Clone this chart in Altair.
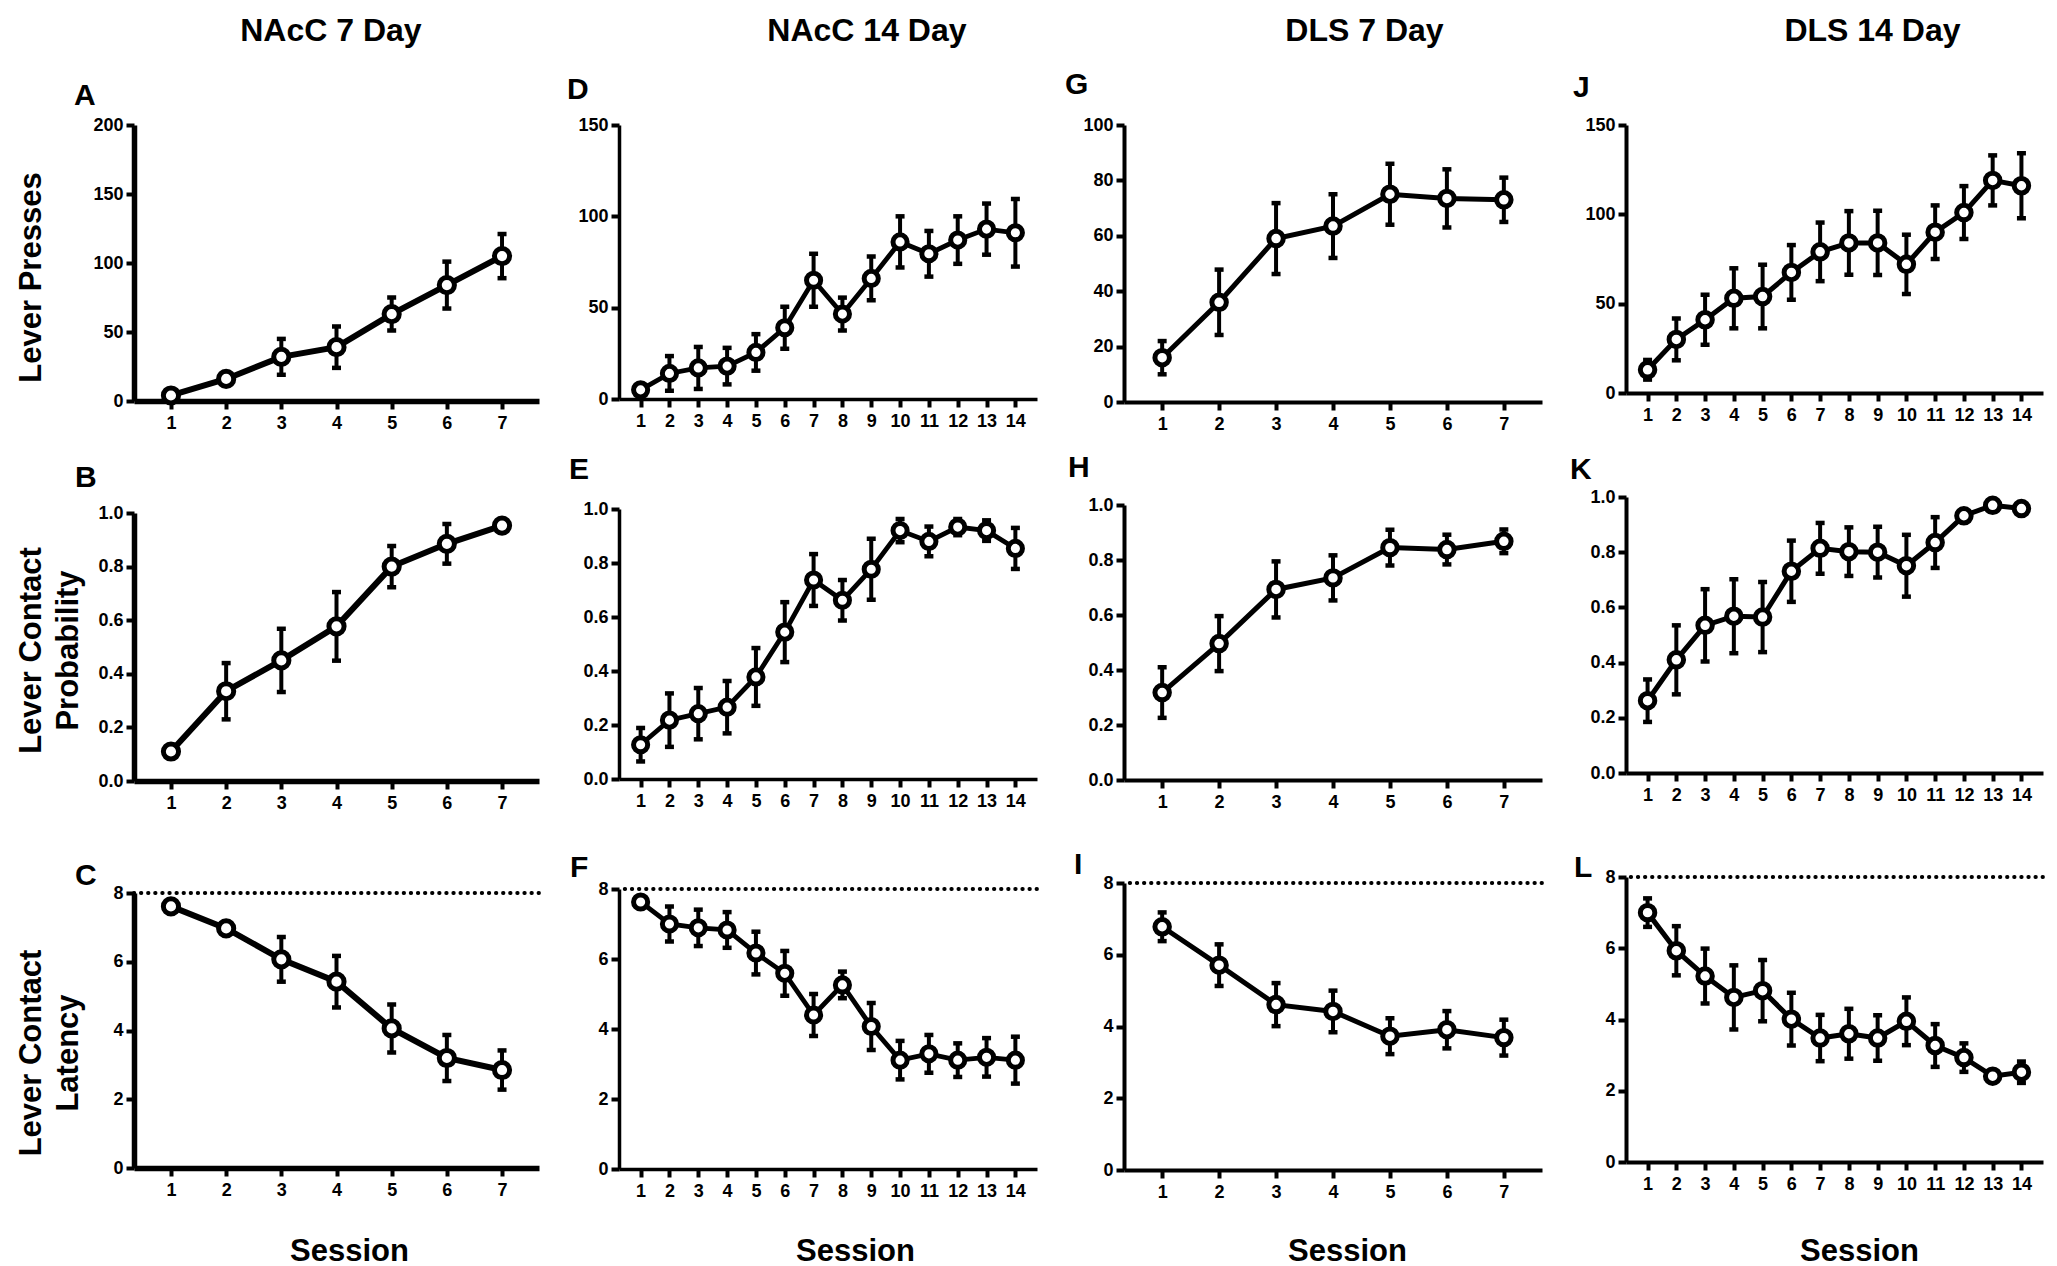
import altair as alt
import pandas as pd

FONT = "Liberation Sans"

# ---------------- data ----------------
sessions_7 = [1, 2, 3, 4, 5, 6, 7]
sessions_14 = [1, 2, 3, 4, 5, 6, 7, 8, 9, 10, 11, 12, 13, 14]

column_titles = ["NAcC 7 Day", "NAcC 14 Day", "DLS 7 Day", "DLS 14 Day"]
row_titles = ["Lever Presses", ["Lever Contact", "Probability"], ["Lever Contact", "Latency"]]
x_title = "Session"
latency_cutoff = [8]

yticks_200 = [0, 50, 100, 150, 200]
yticks_150 = [0, 50, 100, 150]
yticks_100 = [0, 20, 40, 60, 80, 100]
yticks_prob = [0.0, 0.2, 0.4, 0.6, 0.8, 1.0]
yticks_lat = [0, 2, 4, 6, 8]

# Lever presses
A_mean = [4, 16, 32, 39, 63, 84, 105]
A_sem = [2, 3, 13, 15, 12, 17, 16]
D_mean = [5, 14, 17, 18, 25.5, 39, 65, 46.5, 66, 86, 79.5, 87, 93, 91]
D_sem = [3, 9.5, 11.5, 10, 10, 11.5, 14.5, 9, 12, 14, 12.5, 13, 14, 18.5]
G_mean = [16, 36, 59, 63.5, 75, 73.5, 73]
G_sem = [6, 11.8, 12.8, 11.5, 11, 10.5, 8]
J_mean = [13, 30, 41, 53, 54, 67.5, 79, 84, 84, 72, 90, 101, 119, 116]
J_sem = [5.5, 11.7, 14, 16.8, 17.8, 15.3, 16.4, 17.8, 18, 16.6, 15, 14.8, 14, 18.2]

# Lever contact probability
B_mean = [0.11, 0.335, 0.45, 0.577, 0.80, 0.885, 0.953]
B_sem = [0.02, 0.105, 0.118, 0.128, 0.077, 0.074, 0.01]
E_mean = [0.127, 0.218, 0.242, 0.266, 0.378, 0.544, 0.737, 0.662, 0.777, 0.92, 0.88, 0.933, 0.92, 0.854]
E_sem = [0.062, 0.099, 0.095, 0.097, 0.107, 0.111, 0.096, 0.075, 0.113, 0.043, 0.055, 0.03, 0.038, 0.076]
H_mean = [0.318, 0.496, 0.693, 0.735, 0.845, 0.838, 0.868]
H_sem = [0.092, 0.10, 0.102, 0.082, 0.065, 0.054, 0.043]
K_mean = [0.262, 0.41, 0.535, 0.568, 0.565, 0.731, 0.814, 0.802, 0.80, 0.751, 0.835, 0.932, 0.97, 0.958]
K_sem = [0.077, 0.125, 0.131, 0.134, 0.127, 0.111, 0.092, 0.088, 0.092, 0.112, 0.092, 0.02, 0.01, 0.01]

# Lever contact latency
C_mean = [7.61, 6.97, 6.07, 5.42, 4.06, 3.2, 2.85]
C_sem = [0.1, 0.15, 0.65, 0.75, 0.7, 0.67, 0.57]
F_mean = [7.63, 7.0, 6.89, 6.83, 6.17, 5.59, 4.4, 5.26, 4.07, 3.11, 3.29, 3.11, 3.19, 3.11]
F_sem = [0.1, 0.5, 0.52, 0.51, 0.61, 0.64, 0.6, 0.38, 0.67, 0.55, 0.54, 0.48, 0.55, 0.67]
I_mean = [6.78, 5.71, 4.61, 4.42, 3.73, 3.91, 3.69]
I_sem = [0.4, 0.58, 0.6, 0.58, 0.5, 0.52, 0.5]
L_mean = [7.0, 5.93, 5.22, 4.62, 4.81, 4.01, 3.48, 3.6, 3.48, 3.95, 3.27, 2.93, 2.41, 2.52]
L_sem = [0.4, 0.69, 0.77, 0.9, 0.86, 0.74, 0.65, 0.7, 0.64, 0.67, 0.6, 0.4, 0.15, 0.3]


def panel(sessions, mean, sem, yticks, fmt, w, h, letter, letter_dx, letter_off,
          dw, lw, msize, ytitle=None, ytitle_dy=0, xtitle_x=None, xtitle_y=None,
          cutoff=False):
    df = pd.DataFrame({
        "session": sessions,
        "mean": mean,
        "lo": [m - s for m, s in zip(mean, sem)],
        "hi": [m + s for m, s in zip(mean, sem)],
    })
    xdom = [0.33, 7.67] if len(sessions) == 7 else [0.25, 14.75]
    xa = dict(values=sessions, labelAngle=0, labelFontSize=18, labelFont=FONT,
              labelFontWeight="bold", labelColor="black", labelPadding=5,
              labelOverlap=False, labelFlush=False, tickSize=8, tickWidth=4,
              tickColor="black", domainColor="black", domainWidth=dw, grid=False)
    if xtitle_x is not None:
        xa.update(title=x_title, titleX=xtitle_x, titleY=xtitle_y,
                  titleBaseline="alphabetic", titleAlign="center", titleFontSize=31,
                  titleFont=FONT, titleFontWeight="bold", titleColor="black")
    else:
        xa["title"] = None
    ya = dict(values=yticks, format=fmt, labelFontSize=18, labelFont=FONT,
              labelFontWeight="bold", labelColor="black", labelPadding=3,
              tickSize=8, tickWidth=4, tickColor="black", domainColor="black",
              domainWidth=dw, grid=False)
    if ytitle is not None:
        ya.update(title=ytitle, titleX=-118, titleY=h / 2 + ytitle_dy,
                  titleAngle=270, titleBaseline="top", titleAlign="center",
                  titleFontSize=31, titleFont=FONT, titleFontWeight="bold",
                  titleColor="black", titleLineHeight=37)
    else:
        ya["title"] = None

    xscale = alt.Scale(domain=xdom, nice=False, zero=False)
    yscale = alt.Scale(domain=[yticks[0], yticks[-1]], nice=False, zero=True)
    X = alt.X("session:Q", scale=xscale, axis=alt.Axis(**xa))

    def Y(field):
        return alt.Y(field, type="quantitative", scale=yscale, axis=alt.Axis(**ya))

    base = alt.Chart(df)
    layers = []
    if cutoff:
        layers.append(
            alt.Chart(pd.DataFrame({"cut": latency_cutoff}))
            .mark_rule(color="black", strokeWidth=3.8, strokeDash=[0.5, 6.6], strokeCap="round")
            .encode(y=Y("cut"))
        )
    layers += [
        base.mark_rule(color="black", strokeWidth=4).encode(x=X, y=Y("lo"), y2="hi:Q"),
        base.mark_tick(orient="horizontal", size=9, thickness=4.5, color="black", opacity=1).encode(x=X, y=Y("hi")),
        base.mark_tick(orient="horizontal", size=9, thickness=4.5, color="black", opacity=1).encode(x=X, y=Y("lo")),
        base.mark_line(color="black", strokeWidth=lw).encode(x=X, y=Y("mean")),
        base.mark_point(shape="circle", filled=True, fill="white", stroke="black",
                        strokeWidth=5, size=msize, opacity=1).encode(x=X, y=Y("mean")),
    ]
    return alt.layer(*layers).properties(
        width=w, height=h,
        title=alt.TitleParams(letter, anchor="start", frame="group", dx=letter_dx,
                              offset=letter_off, fontSize=30, font=FONT,
                              fontWeight="bold", color="black"),
    )


def column(title, panels, spacing, dx, offset):
    return alt.vconcat(
        *panels, spacing=spacing, bounds="flush",
        title=alt.TitleParams(title, anchor="middle", frame="bounds", dx=dx,
                              offset=offset, fontSize=32, font=FONT,
                              fontWeight="bold", color="black"),
    )


# column 1: NAcC 7 Day
W1, H1 = 405, [276, 268, 275]
col1 = column(column_titles[0], [
    panel(sessions_7, A_mean, A_sem, yticks_200, "d", W1, H1[0], "A", -60, 5, 5.5, 6, 230,
          ytitle=row_titles[0], ytitle_dy=14),
    panel(sessions_7, B_mean, B_sem, yticks_prob, ".1f", W1, H1[1], "B", -59, 11, 5.5, 6, 230,
          ytitle=row_titles[1], ytitle_dy=3),
    panel(sessions_7, C_mean, C_sem, yticks_lat, "d", W1, H1[2], "C", -59, -7, 5.5, 6, 230,
          ytitle=row_titles[2], ytitle_dy=22, xtitle_x=215, xtitle_y=92, cutoff=True),
], 112, 53, 33)

# column 2: NAcC 14 Day
W2, H2 = 418, [274, 270, 280]
col2 = column(column_titles[1], [
    panel(sessions_14, D_mean, D_sem, yticks_150, "d", W2, H2[0], "D", -52, 11, 3.5, 4.8, 200),
    panel(sessions_14, E_mean, E_sem, yticks_prob, ".1f", W2, H2[1], "E", -50, 15, 3.5, 4.8, 200),
    panel(sessions_14, F_mean, F_sem, yticks_lat, "d", W2, H2[2], "F", -49, -3, 3.5, 4.8, 200,
          xtitle_x=236, xtitle_y=91, cutoff=True),
], 110, 64, 27)

# column 3: DLS 7 Day
W3, H3 = 418, [277, 275, 287]
col3 = column(column_titles[2], [
    panel(sessions_7, G_mean, G_sem, yticks_100, "d", W3, H3[0], "G", -59, 16, 4, 5, 210),
    panel(sessions_7, H_mean, H_sem, yticks_prob, ".1f", W3, H3[1], "H", -56, 13, 4, 5, 210),
    panel(sessions_7, I_mean, I_sem, yticks_lat, "d", W3, H3[2], "I", -50, -6, 4, 5, 210,
          xtitle_x=223, xtitle_y=90, cutoff=True),
], 103, 60, 22)

# column 4: DLS 14 Day
W4, H4 = 417, [268, 276, 285]
col4 = column(column_titles[3], [
    panel(sessions_14, J_mean, J_sem, yticks_150, "d", W4, H4[0], "J", -53, 13, 4, 5, 210),
    panel(sessions_14, K_mean, K_sem, yticks_prob, ".1f", W4, H4[1], "K", -56, 3, 4, 5, 210),
    panel(sessions_14, L_mean, L_sem, yticks_lat, "d", W4, H4[2], "L", -52, -15, 4, 5, 210,
          xtitle_x=233, xtitle_y=98, cutoff=True),
], 104, 65, 25)

chart = (
    alt.hconcat(col1, col2, col3, col4, spacing=26)
    .properties(padding={"left": 6, "top": 7, "right": 2, "bottom": 0},
                background="white")
    .configure_view(strokeWidth=0)
)

chart.save("out.html", embed_options={"renderer": "svg", "actions": False})
